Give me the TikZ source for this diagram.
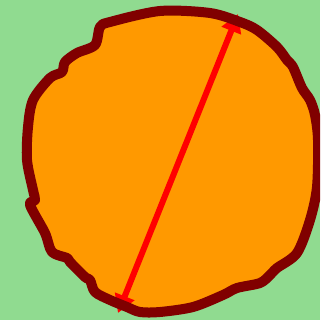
\documentclass[tikz,border=0pt]{standalone}
\usetikzlibrary{arrows.meta}
\definecolor{bggreen}{HTML}{90DB90}
\definecolor{blobor}{HTML}{FF9900}
\definecolor{rim}{HTML}{800000}
\definecolor{arr}{HTML}{FF0000}
\tikzset{
  blob/.style={fill=blobor, draw=rim, line width=10pt, line join=round},
  diam/.style={draw=arr, line width=6pt, {Triangle[length=18pt,width=20pt]}-{Triangle[length=18pt,width=20pt]}}
}
\begin{document}
\begin{tikzpicture}[x=1pt,y=-1pt]
\useasboundingbox (0,0) rectangle (320,320);
\clip (0,0) rectangle (320,320);
\fill[bggreen] (0,0) rectangle (320,320);
\fill[blobor] plot[smooth cycle, tension=0.5] coordinates {
(160,11) (210,13) (240,22) (257,30) (277,47) (287,60) (293,67) (302,88) (310,100) (315,115) (318,140) (317,187) (310,220) (297,253) (277,268) (270,275) (260,283) (237,288) (223,295) (193,307) (160,312) (140,312) (127,307) (110,300) (95,292) (90,280) (85,277) (70,262) (67,258) (52,252) (45,233) (30,205) (35,200) (33,190) (27,160) (28,127) (33,100) (50,78) (62,72) (65,62) (77,53) (95,45) (100,27) (110,22)};
\coordinate (top) at (238,14);
\coordinate (bot) at (118,313);
\draw[diam] (bot) -- (top);
\draw[draw=rim, line width=10pt, line join=round] plot[smooth cycle, tension=0.5] coordinates {
(160,11) (210,13) (240,22) (257,30) (277,47) (287,60) (293,67) (302,88) (310,100) (315,115) (318,140) (317,187) (310,220) (297,253) (277,268) (270,275) (260,283) (237,288) (223,295) (193,307) (160,312) (140,312) (127,307) (110,300) (95,292) (90,280) (85,277) (70,262) (67,258) (52,252) (45,233) (30,205) (35,200) (33,190) (27,160) (28,127) (33,100) (50,78) (62,72) (65,62) (77,53) (95,45) (100,27) (110,22)};
\end{tikzpicture}
\end{document}
